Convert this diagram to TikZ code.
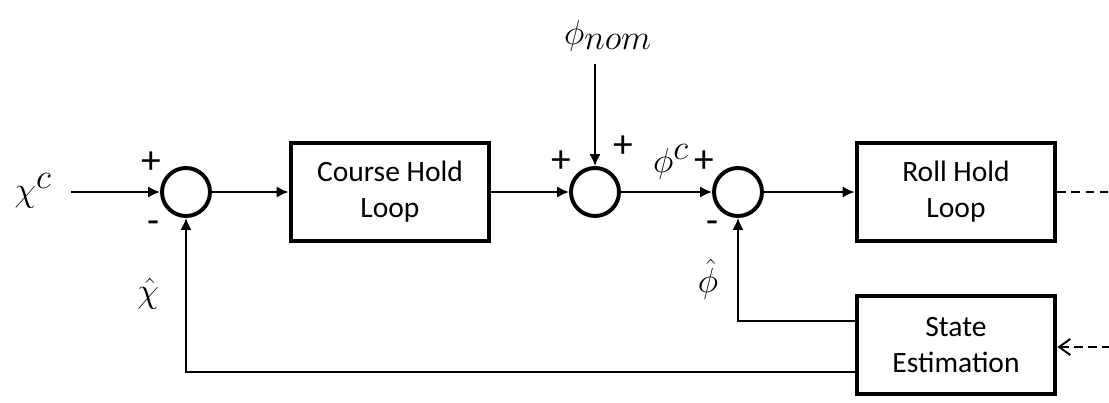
\documentclass[tikz,border=0pt]{standalone}
\usepackage{amsmath}
\usepackage{fontspec}
\newfontfamily\boxfont{Carlito}
\usetikzlibrary{arrows.meta,positioning}

\begin{document}
\begin{tikzpicture}[x=0.025cm, y=-0.025cm,
  >={Latex[length=3mm,width=2.8mm]}, line width=1.4pt,
  block/.style={draw, line width=2.8pt, minimum width=4.97cm, minimum height=2.45cm,
                align=center, font=\boxfont\fontsize{21}{25.6}\selectfont},
  sumj/.style={draw, circle, line width=2.8pt, minimum size=1.2cm, inner sep=0pt},
  sig/.style={font=\fontsize{34}{38}\selectfont, inner sep=0pt},
  sgn/.style={font=\boxfont\fontsize{28}{28}\selectfont, inner sep=0pt},
  dashline/.style={dash pattern=on 6pt off 4pt}]
\useasboundingbox (0,0) rectangle (1109,402);
% blocks
\node[block] (course) at (390,192) {Course Hold\\Loop};
\node[block] (roll) at (956,192) {Roll Hold\\Loop};
\node[block] (state) at (956,345) {State\\Estimation};
% summing junctions
\node[sumj] (s1) at (186,192) {};
\node[sumj] (s2) at (595,192) {};
\node[sumj] (s3) at (738,192) {};
% signal labels
\node[sig] (chic) at (33,191) {$\chi^c$};
\node[sig] (phinom) at (608,36) {$\phi_{nom}$};
\node[sig] (phic) at (671,162) {$\phi^c$};
\node[sig] (chihat) at (148,294) {$\hat{\chi}$};
\node[sig] (phihat) at (708,279) {$\hat{\phi}$};
% signs
\node[sgn] (p1) at (151,163) {+};
\node[sgn] (m1) at (154,227) {-};
\node[sgn] (p2) at (561,162) {+};
\node[sgn] (p3) at (623,147) {+};
\node[sgn] (p4) at (704,162) {+};
\node[sgn] (m3) at (713,227) {-};
% free ends
\coordinate (in) at (71,192);
\coordinate (nomtop) at (595,64);
\coordinate (outr) at (1109,192);
\coordinate (meas) at (1109,347);
% arrows
\draw[->] (in) -- (s1.west);
\draw[->] (s1.east) -- (course.west);
\draw[->] (course.east) -- (s2.west);
\draw[->] (nomtop) -- (s2.north);
\draw[->] (s2.east) -- (s3.west);
\draw[->] (s3.east) -- (roll.west);
\draw[dashline] (roll.east) -- (outr);
\draw[dashline, {Straight Barb[length=2.8mm,width=4mm]}-] (state.east |- meas) -- (meas);
\draw[->] ([yshift=0.6cm]state.west) -| (s3.south);
\draw[->] ([yshift=-0.67cm]state.west) -| (s1.south);
\end{tikzpicture}
\end{document}
